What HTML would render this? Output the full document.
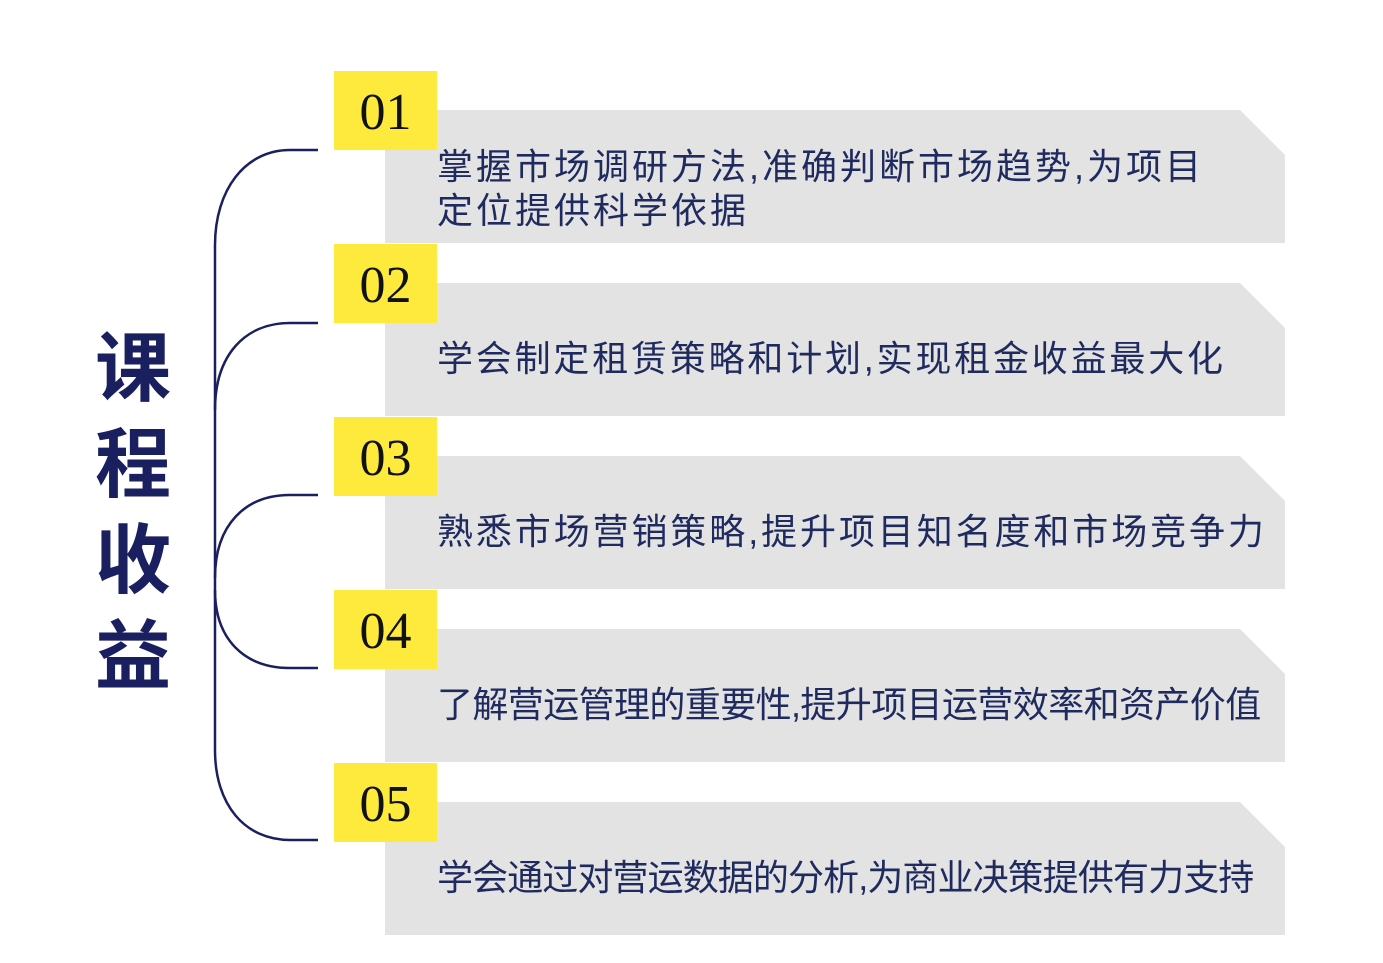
<!DOCTYPE html>
<html><head><meta charset="utf-8"><style>
body{margin:0;width:1383px;height:963px;background:#fff;position:relative;overflow:hidden;font-family:"Liberation Sans","Noto Sans CJK SC",sans-serif;}
.p{position:absolute;left:385px;width:900px;height:133px;background:#e3e3e3;clip-path:polygon(0 0,855px 0,900px 45px,900px 133px,0 133px);}
.y{position:absolute;left:334px;width:103px;height:79px;background:#fdea3c;font-family:"Liberation Serif",serif;font-size:52px;color:#111;text-align:center;line-height:84px;}
.t{position:absolute;left:437px;font-size:36px;color:#1f2a5e;white-space:nowrap;line-height:44px;letter-spacing:3px;}
.title{position:absolute;left:88px;top:322px;width:90px;font-size:76px;font-weight:bold;color:#1a1f60;line-height:96px;text-align:center;}
</style></head><body>
<svg width="1383" height="963" style="position:absolute;left:0;top:0">
<g fill="none" stroke="#1a1f60" stroke-width="2.5">
<path d="M318 150 H290 C245 150 215 190 215 245 V750 C215 805 245 840 290 840 H318"/>
<path d="M318 323 H290 C245 323 215 355 215 410"/>
<path d="M318 495 H290 C245 495 215 525 215 578"/>
<path d="M318 668 H290 C245 668 215 640 215 590"/>
</g></svg>
<div class="p" style="top:110px"></div>
<div class="p" style="top:283px"></div>
<div class="p" style="top:456px"></div>
<div class="p" style="top:629px"></div>
<div class="p" style="top:802px"></div>
<div class="y" style="top:71px">01</div>
<div class="y" style="top:244px">02</div>
<div class="y" style="top:417px">03</div>
<div class="y" style="top:590px">04</div>
<div class="y" style="top:763px">05</div>
<div class="t" style="top:145px">掌握市场调研方法,准确判断市场趋势,为项目<br>定位提供科学依据</div>
<div class="t" style="top:337px;letter-spacing:2.8px">学会制定租赁策略和计划,实现租金收益最大化</div>
<div class="t" style="top:510px;letter-spacing:2.9px">熟悉市场营销策略,提升项目知名度和市场竞争力</div>
<div class="t" style="top:683px;letter-spacing:-0.6px">了解营运管理的重要性,提升项目运营效率和资产价值</div>
<div class="t" style="top:856px;letter-spacing:-0.9px">学会通过对营运数据的分析,为商业决策提供有力支持</div>
<div class="title">课<br>程<br>收<br>益</div>
</body></html>
